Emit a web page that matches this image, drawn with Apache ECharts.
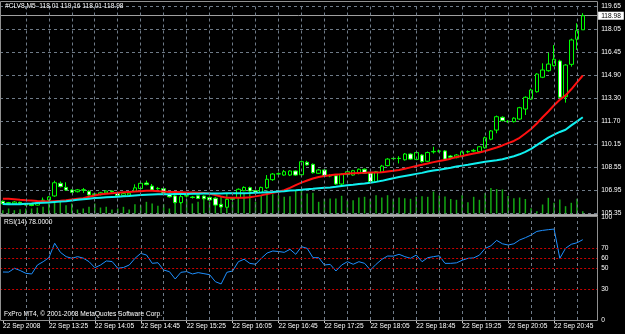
<!DOCTYPE html>
<html><head><meta charset="utf-8">
<script src="https://cdn.jsdelivr.net/npm/echarts/dist/echarts.min.js"></script>
<style>html,body{margin:0;padding:0;background:#000;}#c{width:625px;height:334px;}</style>
</head><body><div id="c"></div>
<script>
// ---------------- data ----------------
const symbolTitle = '#CLV8,M5  118.01 119.16 118.01 118.98';
const rsiTitle = 'RSI(14) 78.0000';
const copyright = 'FxPro MT4, \u00A9 2001-2008 MetaQuotes Software Corp.';
const timeLabels = ['22 Sep 2008','22 Sep 13:25','22 Sep 14:05','22 Sep 14:45','22 Sep 15:25','22 Sep 16:05','22 Sep 16:45','22 Sep 17:25','22 Sep 18:05','22 Sep 18:45','22 Sep 19:25','22 Sep 20:05','22 Sep 20:45'];
const priceTicks = ['119.65','118.05','116.45','114.90','113.30','111.70','110.15','108.55','106.95','105.35'];
const rsiTicks = [100, 70, 60, 50, 30, 0];
const rsiLevels = [70, 60, 50, 30];
const lastPrice = 118.98;

const open = [106.19,106.05,106.02,106.12,106.03,105.98,105.93,106.25,106.28,106.56,
107.43,107.15,106.97,106.85,106.98,106.88,106.66,106.65,106.77,106.90,
106.76,106.60,106.62,106.88,107.07,107.45,107.24,107.08,107.06,106.67,
106.56,106.10,106.56,106.48,106.57,106.55,106.46,106.40,105.98,105.78,
106.33,106.44,106.92,107.13,106.92,106.81,107.12,107.68,108.07,108.00,
108.00,108.28,108.02,108.88,108.74,108.12,108.35,107.93,107.95,107.38,
108.03,108.00,108.10,108.40,108.14,107.55,108.20,108.65,109.13,109.15,
109.05,109.45,109.08,109.38,108.95,109.60,109.64,109.66,109.31,109.20,
109.28,109.60,109.65,109.62,109.88,110.47,111.10,111.98,111.70,111.68,
111.86,112.55,113.24,113.74,114.74,115.19,115.54,115.86,113.40,115.63,
117.36,118.01];
const close = [106.02,106.10,106.14,106.05,105.93,105.90,106.10,106.27,106.49,107.47,
107.20,106.97,106.81,106.98,106.96,106.63,106.70,106.78,106.90,106.85,
106.58,106.72,106.75,107.12,107.43,107.34,106.97,107.06,106.76,106.50,
106.10,106.51,106.58,106.46,106.39,106.36,106.28,105.93,105.80,106.33,
106.38,107.02,107.15,106.90,106.81,107.15,107.71,108.07,108.09,108.23,
108.28,108.00,108.92,108.70,108.16,108.35,107.93,107.97,107.38,108.07,
108.23,108.30,108.40,108.13,107.55,108.23,108.62,109.10,109.15,109.14,
109.45,109.10,109.55,108.92,109.55,109.63,109.66,109.10,109.22,109.38,
109.60,109.62,109.70,109.95,110.57,111.04,112.02,111.75,111.68,111.92,
112.64,113.36,113.86,114.96,115.24,115.65,115.98,113.36,115.58,117.31,
117.95,118.98];
const low = [105.98,106.00,105.98,106.00,105.90,105.85,105.90,106.12,106.20,106.50,
107.15,106.90,106.78,106.80,106.77,106.58,106.60,106.60,106.72,106.78,
106.53,106.55,106.58,106.82,107.00,107.30,106.93,106.98,106.70,106.45,
106.05,106.00,106.45,106.38,106.34,106.30,106.22,105.88,105.75,105.72,
106.28,106.38,106.88,106.85,106.76,106.76,107.05,107.60,107.95,107.95,
107.93,107.95,107.96,108.65,108.10,108.08,107.88,107.85,107.32,107.30,
107.98,107.95,108.05,108.08,107.50,107.48,108.15,108.60,109.02,108.80,
109.00,109.05,109.02,108.85,108.90,109.48,109.55,109.05,109.15,109.15,
109.22,109.50,109.58,109.57,109.82,110.40,110.88,111.70,111.60,111.62,
111.80,112.14,113.18,113.68,114.68,115.12,115.48,113.30,112.99,115.47,
116.62,118.01];
const high = [106.25,106.15,106.20,106.16,106.05,106.02,106.14,106.45,106.55,107.61,
107.55,107.50,107.02,107.04,107.11,106.95,106.76,106.84,106.95,106.95,
106.85,106.78,106.80,107.36,107.50,107.62,107.38,107.18,107.12,106.72,
106.62,106.63,106.70,106.56,106.62,106.60,106.52,106.45,106.02,106.40,
106.45,107.08,107.22,107.20,106.98,107.20,108.00,108.14,108.18,108.35,
108.33,108.32,109.00,108.98,108.80,108.42,108.40,108.05,108.00,108.12,
108.30,108.36,108.45,108.46,108.18,108.28,108.70,109.17,109.25,109.30,
109.52,109.50,109.60,109.45,109.62,109.95,109.75,109.72,109.38,109.45,
109.68,109.70,109.80,110.00,110.65,111.10,112.10,112.05,111.78,111.98,
112.70,113.42,113.95,115.02,115.70,116.43,116.96,115.95,115.65,117.40,
118.46,119.16];
const maRed = [106.37,106.36,106.33,106.29,106.26,106.24,106.21,106.19,106.17,106.20,
106.23,106.27,106.32,106.36,106.40,106.50,106.59,106.67,106.71,106.75,
106.78,106.81,106.84,106.86,106.89,106.91,106.91,106.89,106.86,106.84,
106.83,106.82,106.80,106.80,106.78,106.76,106.73,106.62,106.52,106.44,
106.43,106.43,106.44,106.47,106.53,106.60,106.70,106.78,106.85,106.95,
107.12,107.31,107.48,107.62,107.76,107.86,107.93,107.98,108.03,108.06,
108.11,108.13,108.14,108.15,108.17,108.17,108.19,108.24,108.29,108.35,
108.44,108.53,108.62,108.71,108.80,108.89,108.97,109.04,109.13,109.24,
109.31,109.40,109.48,109.56,109.66,109.78,109.90,110.04,110.20,110.35,
110.57,110.86,111.17,111.55,111.98,112.38,112.81,113.19,113.49,113.91,
114.39,114.86];
const maCyan = [106.00,105.99,105.99,105.99,106.02,106.04,106.07,106.09,106.11,106.15,
106.18,106.20,106.25,106.29,106.33,106.37,106.41,106.44,106.47,106.49,
106.51,106.54,106.56,106.59,106.62,106.64,106.66,106.67,106.67,106.68,
106.69,106.69,106.70,106.71,106.71,106.72,106.73,106.73,106.73,106.74,
106.74,106.75,106.75,106.76,106.78,106.79,106.81,106.83,106.86,106.89,
106.93,106.95,106.98,107.02,107.05,107.09,107.12,107.15,107.19,107.24,
107.29,107.33,107.38,107.42,107.47,107.53,107.60,107.69,107.78,107.87,
107.94,108.01,108.08,108.15,108.24,108.31,108.37,108.44,108.51,108.59,
108.65,108.71,108.78,108.85,108.91,108.97,109.02,109.09,109.19,109.30,
109.43,109.60,109.81,110.06,110.32,110.58,110.79,110.97,111.12,111.42,
111.70,111.98];
const volume = [33,50,33,43,50,50,60,67,100,107,
117,83,100,40,50,67,100,60,67,40,
50,67,40,93,83,117,100,77,93,50,
133,150,140,100,117,140,117,167,167,200,
117,183,200,217,117,183,233,193,183,167,
173,233,227,200,207,117,147,150,150,177,
133,133,160,167,147,183,160,183,147,160,
152,147,167,173,167,220,180,170,145,137,
182,113,167,137,205,255,245,240,175,153,
160,145,53,23,90,157,107,140,73,107,
147,23];
const rsi = [46.6,46.5,50.2,48,45.3,44.7,53.4,56.6,60.5,74.5,
65.7,61.5,59.9,61.5,60.0,56.6,50.8,53.4,57.3,56.8,
50.2,51,53.4,59.9,64.7,63.1,55.0,55.6,48.5,46.9,
39.8,46.3,47,44.7,46,45,44,37.2,35,46.3,
47.6,56.6,59,55,54.1,59.9,65,67,66.5,65.7,
68.6,63.8,71.2,69.5,60.5,60.5,53.4,54,47.6,53.4,
56.6,54.1,56.6,55,48.5,54.1,58.9,62.1,62,63.8,
61.5,59.9,63.1,56.6,60.5,61.5,62.4,55,55,55.5,
58,59.9,60.3,63,69.5,72.1,77.3,74,72.8,74,
77.7,79.9,82.5,86,87,87.7,88.3,59.9,69.6,73.5,
75,78];

// ---------------- build ----------------
const BAR_COUNT = open.length;      // 102 bars of M5
const SLOTS = BAR_COUNT + 2;        // chart shift on the right
const START_MIN = 12 * 60 + 45;
const categories = [];
for (let i = 0; i < SLOTS; i++) {
  const m = START_MIN + 5 * i;
  categories.push(String(Math.floor(m / 60)).padStart(2, '0') + ':' + String(m % 60).padStart(2, '0'));
}
const candles = open.map((o, i) => [o, close[i], low[i], high[i]]);

const FONT = 'Liberation Sans, Arial, sans-serif';
const FS = 6.6;
const GRIDC = '#6f7b88';
const SLOTW = 5.75;
const LEFT = -0.875;
const W = SLOTS * SLOTW;

const vGrid = [];
for (let i = 4; i < SLOTS; i += 4) vGrid.push({ xAxis: i });

const priceGridLines = priceTicks.map(t => ({
  yAxis: parseFloat(t),
  lineStyle: { color: GRIDC, type: [3, 3], width: 1 },
  label: { show: true, position: 'end', formatter: t, color: '#ffffff', fontSize: FS, fontFamily: FONT, distance: 4,
    backgroundColor: 'transparent', padding: 0 }
}));
const lastPriceLine = {
  yAxis: lastPrice,
  lineStyle: { color: '#a0a0a0', type: 'solid', width: 1 },
  label: { show: true, position: 'end', formatter: lastPrice.toFixed(2), color: '#000', backgroundColor: '#ffffff',
    padding: [1, 3, 0, 3], fontSize: FS, fontFamily: FONT, distance: 1 }
};

const rsiLevelLines = rsiLevels.map(v => ({
  yAxis: v,
  lineStyle: { color: '#c80000', type: [2, 2], width: 1 }
}));

const chart = echarts.init(document.getElementById('c'), null, { renderer: 'canvas' });
chart.setOption({
  animation: false,
  backgroundColor: '#000',
  grid: [
    { left: LEFT, top: 6, width: W, height: 207.5 },
    { left: LEFT, top: 217, width: W, height: 103 }
  ],
  xAxis: [
    { gridIndex: 0, type: 'category', data: categories, boundaryGap: true,
      axisLine: { show: false }, axisTick: { show: false }, axisLabel: { show: false }, splitLine: { show: false } },
    { gridIndex: 1, type: 'category', data: categories, boundaryGap: true,
      axisLine: { show: false },
      axisTick: { show: true, alignWithLabel: true, interval: (i) => i % 8 === 0, length: 3, lineStyle: { color: '#c8c8c8' } },
      axisLabel: { interval: (i) => i % 8 === 0, formatter: (v, i) => timeLabels[Math.round(i / 8)] || '',
        color: '#ffffff', fontSize: FS, fontFamily: FONT, align: 'left', margin: 3 },
      splitLine: { show: false } }
  ],
  yAxis: [
    { gridIndex: 0, type: 'value', position: 'right', min: 105.35, max: 119.65,
      axisLine: { show: false }, axisTick: { show: false }, axisLabel: { show: false }, splitLine: { show: false } },
    { gridIndex: 0, type: 'value', min: 0, max: 2075, show: false, splitLine: { show: false } },
    { gridIndex: 1, type: 'value', position: 'right', min: 0, max: 100, interval: 10,
      axisLine: { show: false }, axisTick: { show: false }, splitLine: { show: false },
      axisLabel: { formatter: (v) => rsiTicks.includes(v) ? String(v) : '', color: '#ffffff', fontSize: FS, fontFamily: FONT, margin: 4 } }
  ],
  series: [
    { type: 'bar', name: 'volume', xAxisIndex: 0, yAxisIndex: 1, data: volume, barWidth: 1.5,
      itemStyle: { color: '#14a814' }, z: 1, silent: true,
      markLine: { silent: true, symbol: 'none', animation: false, label: { show: false },
        lineStyle: { color: GRIDC, type: [3, 3], width: 1 },
        data: vGrid } },
    { type: 'candlestick', name: 'price', xAxisIndex: 0, yAxisIndex: 0, data: candles, barWidth: 4, z: 3,
      itemStyle: { color: '#000000', color0: '#ffffff', borderColor: '#00ff00', borderColor0: '#00ff00', borderWidth: 1 },
      markLine: { silent: true, symbol: 'none', animation: false, z: 1,
        data: priceGridLines.concat([lastPriceLine]) } },
    { type: 'line', name: 'maRed', xAxisIndex: 0, yAxisIndex: 0, data: maRed, showSymbol: false, z: 4,
      lineStyle: { color: '#ff1010', width: 2 } },
    { type: 'line', name: 'maCyan', xAxisIndex: 0, yAxisIndex: 0, data: maCyan, showSymbol: false, z: 4,
      lineStyle: { color: '#10f0f0', width: 2 } },
    { type: 'line', name: 'rsi', xAxisIndex: 1, yAxisIndex: 2, data: rsi, showSymbol: false, z: 4,
      lineStyle: { color: '#1e90ff', width: 1 },
      markLine: { silent: true, symbol: 'none', animation: false, label: { show: false },
        lineStyle: { color: GRIDC, type: [3, 3], width: 1 },
        data: vGrid.concat(rsiLevelLines) } }
  ],
  graphic: [
    { type: 'rect', shape: { x: 0.5, y: 1.5, width: 597, height: 213 }, style: { fill: 'none', stroke: '#909090', lineWidth: 1 }, silent: true, z: 50 },
    { type: 'rect', shape: { x: 0, y: 214.5, width: 598, height: 2 }, style: { fill: '#b0b0b0' }, silent: true, z: 50 },
    { type: 'rect', shape: { x: 0.5, y: 216.5, width: 597, height: 104 }, style: { fill: 'none', stroke: '#909090', lineWidth: 1 }, silent: true, z: 50 },
    { type: 'text', left: 5, top: 3, style: { text: symbolTitle, fill: '#ffffff', font: FS + 'px ' + FONT }, silent: true, z: 60 },
    { type: 'text', left: 4, top: 219, style: { text: rsiTitle, fill: '#ffffff', font: FS + 'px ' + FONT }, silent: true, z: 60 },
    { type: 'text', left: 4, top: 311, style: { text: copyright, fill: '#ffffff', font: FS + 'px ' + FONT }, silent: true, z: 60 }
  ]
});
</script></body></html>
